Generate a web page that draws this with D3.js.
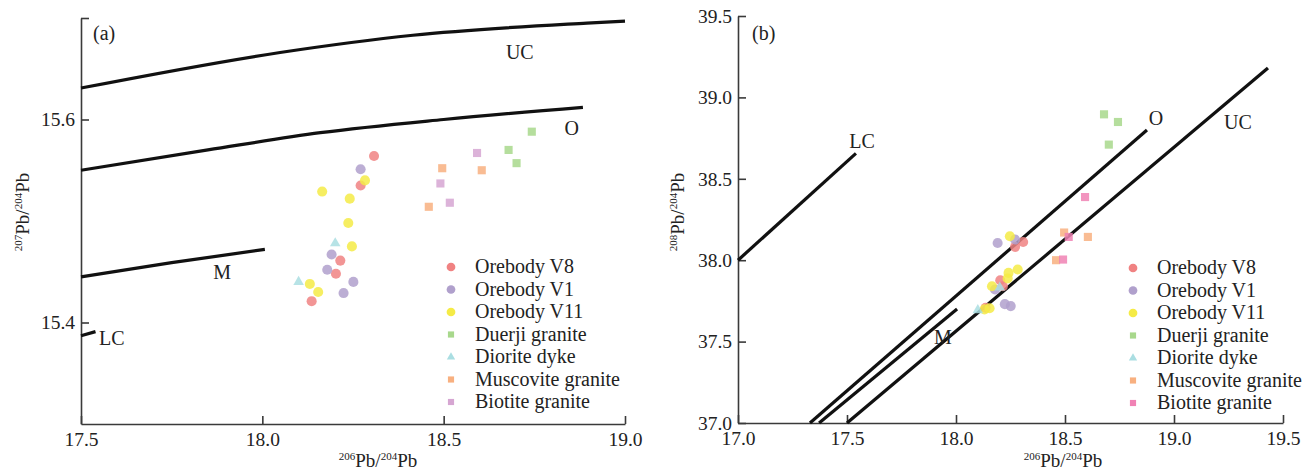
<!DOCTYPE html>
<html>
<head>
<meta charset="utf-8">
<script src="https://cdn.jsdelivr.net/npm/d3@7"></script>
<style>
  body { margin: 0; background: #fff; }
  svg text { font-family: "Liberation Serif", "Times New Roman", serif; fill: #222; }
</style>
</head>
<body>
<div id="chart"></div>
<script>
// sample groups, shared 206Pb/204Pb value, then 207Pb/204Pb (panel a) and 208Pb/204Pb (panel b)
const groups = ["Orebody V8", "Orebody V1", "Orebody V11", "Duerji granite", "Diorite dyke", "Muscovite granite", "Biotite granite"];

const v8_x   = [18.308, 18.271, 18.215, 18.203, 18.136];
const v8_y7  = [15.564, 15.535, 15.461, 15.448, 15.421];
const v8_y8  = [38.112, 38.082, 37.840, 37.877, 37.708];

const v1_x   = [18.271, 18.191, 18.179, 18.251, 18.224];
const v1_y7  = [15.551, 15.467, 15.452, 15.440, 15.429];
const v1_y8  = [38.127, 38.106, 37.820, 37.718, 37.730];

const v11_x  = [18.165, 18.283, 18.241, 18.237, 18.247, 18.131, 18.154];
const v11_y7 = [15.529, 15.540, 15.522, 15.498, 15.475, 15.438, 15.430];
const v11_y8 = [37.840, 37.943, 37.922, 37.888, 38.147, 37.698, 37.705];

const dj_x   = [18.743, 18.679, 18.701];
const dj_y7  = [15.588, 15.570, 15.557];
const dj_y8  = [38.849, 38.896, 38.710];

const dd_x   = [18.201, 18.100];
const dd_y7  = [15.478, 15.440];
const dd_y8  = [37.832, 37.693];

const mg_x   = [18.496, 18.605, 18.459];
const mg_y7  = [15.552, 15.550, 15.514];
const mg_y8  = [38.170, 38.143, 38.000];

const bg_x   = [18.592, 18.491, 18.517];
const bg_y7  = [15.567, 15.537, 15.518];
const bg_y8  = [38.388, 38.004, 38.143];

// plumbotectonic reference curves (x, y pairs)
const curvesA = {
  UC: [[17.5, 15.631], [18.049, 15.666], [18.415, 15.683], [18.895, 15.695], [19.0, 15.697]],
  O:  [[17.5, 15.550], [17.85, 15.570], [18.16, 15.587], [18.5, 15.600], [18.884, 15.612]],
  M:  [[17.5, 15.445], [17.75, 15.459], [18.007, 15.472]],
  LC: [[17.5, 15.387], [17.54, 15.391]]
};
const curvesB = {
  LC: [[17.0, 38.0], [17.541, 38.656]],
  O:  [[17.330, 37.0], [18.876, 38.80]],
  M:  [[17.372, 37.0], [18.005, 37.70]],
  UC: [[17.5, 37.0], [19.431, 39.18]]
};
const labelsA = [["UC", 18.71, 15.66], ["O", 18.853, 15.585], ["M", 17.889, 15.443], ["LC", 17.585, 15.378]];
const labelsB = [["LC", 17.569, 38.689], ["O", 18.917, 38.83], ["UC", 19.293, 38.806], ["M", 17.940, 37.485]];

const xTicksA = [17.5, 18.0, 18.5, 19.0];
const yTicksA = [15.4, 15.6, 15.7];
const xTicksB = [17.0, 17.5, 18.0, 18.5, 19.0, 19.5];
const yTicksB = [37.0, 37.5, 38.0, 38.5, 39.0, 39.5];

const w = 1303, h = 474;
const colorsA = ["#f08282", "#b0a0cc", "#f5eb46", "#a8d88c", "#aadee2", "#f8b080", "#d6a6d2"];
const colorsB = ["#f08282", "#b0a0cc", "#f5eb46", "#a8d88c", "#aadee2", "#f8b080", "#f082b4"];
const shapes = [d3.symbolCircle, d3.symbolCircle, d3.symbolCircle, d3.symbolSquare, d3.symbolTriangle, d3.symbolSquare, d3.symbolSquare];
const sizes = [80, 80, 80, 66, 48, 66, 66];
const legSizes = [60, 60, 60, 38, 30, 38, 38];

const xs = [v8_x, v1_x, v11_x, dj_x, dd_x, mg_x, bg_x];
const y7s = [v8_y7, v1_y7, v11_y7, dj_y7, dd_y7, mg_y7, bg_y7];
const y8s = [v8_y8, v1_y8, v11_y8, dj_y8, dd_y8, mg_y8, bg_y8];

const svg = d3.select("#chart").append("svg").attr("width", w).attr("height", h);

function panel(opt) {
  const g = svg.append("g");
  const x = d3.scaleLinear().domain(opt.xDomain).range(opt.xRange);
  const y = d3.scaleLinear().domain(opt.yDomain).range(opt.yRange);

  // axes, ticks pointing inward
  const xAxis = d3.axisBottom(x).tickValues(opt.xTicks).tickFormat(d3.format(".1f"))
                  .tickSizeInner(-8).tickSizeOuter(0).tickPadding(8);
  const yAxis = d3.axisLeft(y).tickValues(opt.yTicks).tickFormat(opt.yFormat)
                  .tickSizeInner(-8).tickSizeOuter(0).tickPadding(6);
  const gx = g.append("g").attr("transform", `translate(0,${opt.yRange[0]})`).call(xAxis);
  const gy = g.append("g").attr("transform", `translate(${opt.xRange[0]},0)`).call(yAxis);
  [gx, gy].forEach(a => {
    a.selectAll("path, line").attr("stroke", "#3a3a3a").attr("stroke-width", 1.6);
    a.selectAll("text").attr("font-size", 19.5).attr("font-family", "Liberation Serif").attr("fill", "#222");
  });

  // reference curves
  const line = d3.line().x(d => x(d[0])).y(d => y(d[1])).curve(d3.curveMonotoneX);
  Object.values(opt.curves).forEach(c => {
    g.append("path").attr("d", line(c)).attr("fill", "none")
     .attr("stroke", "#111").attr("stroke-width", 3.2).attr("stroke-linecap", "butt");
  });
  g.selectAll(".clab").data(opt.labels).enter().append("text")
   .attr("x", d => x(d[1])).attr("y", d => y(d[2]))
   .attr("text-anchor", "middle").attr("font-size", 20).text(d => d[0]);

  // samples
  groups.forEach((name, i) => {
    g.append("g").selectAll("path").data(xs[i].map((v, j) => [v, opt.ys[i][j]])).enter()
     .append("path")
     .attr("d", d3.symbol().type(shapes[i]).size(sizes[i]))
     .attr("transform", d => `translate(${x(d[0])},${y(d[1])})`)
     .attr("fill", opt.colors[i]).attr("fill-opacity", 0.85);
  });

  // legend
  const leg = g.append("g").attr("transform", `translate(${opt.legX},${opt.legY})`);
  groups.forEach((name, i) => {
    leg.append("path").attr("d", d3.symbol().type(shapes[i]).size(legSizes[i]))
       .attr("transform", `translate(0,${i * 22.5})`).attr("fill", opt.colors[i]);
    leg.append("text").attr("x", 24).attr("y", i * 22.5 + 6).attr("font-size", 20).text(name);
  });

  // panel tag
  g.append("text").attr("x", opt.tag[1]).attr("y", 40).attr("font-size", 20).text(opt.tag[0]);

  // axis titles
  const xt = g.append("text").attr("x", opt.xTitle[0]).attr("y", opt.xTitle[1])
              .attr("text-anchor", "middle").attr("font-size", 19);
  isoLabel(xt, "206", "204");
  const yt = g.append("text")
              .attr("transform", `translate(${opt.yTitle[0]},${opt.yTitle[1]}) rotate(-90)`)
              .attr("text-anchor", "middle").attr("font-size", 19);
  isoLabel(yt, opt.yIso, "204");
}

function isoLabel(t, a, b) {
  t.append("tspan").attr("font-size", 11).attr("dy", -7).text(a);
  t.append("tspan").attr("dy", 7).text("Pb/");
  t.append("tspan").attr("font-size", 11).attr("dy", -7).text(b);
  t.append("tspan").attr("dy", 7).text("Pb");
}

panel({
  xDomain: [17.5, 19.0], xRange: [81, 625],
  yDomain: [15.3, 15.7], yRange: [424, 18],
  xTicks: xTicksA, yTicks: yTicksA,
  yFormat: d => d > 15.65 ? "" : d3.format(".1f")(d),
  curves: curvesA, labels: labelsA, ys: y7s, colors: colorsA,
  legX: 451, legY: 267, tag: ["(a)", 93],
  xTitle: [378, 467], yTitle: [29, 212], yIso: "207"
});

panel({
  xDomain: [17.0, 19.5], xRange: [738, 1283],
  yDomain: [37.0, 39.5], yRange: [423, 16],
  xTicks: xTicksB, yTicks: yTicksB,
  yFormat: d3.format(".1f"),
  curves: curvesB, labels: labelsB, ys: y8s, colors: colorsB,
  legX: 1133, legY: 268, tag: ["(b)", 752],
  xTitle: [1063, 467], yTitle: [684, 212], yIso: "208"
});
</script>
</body>
</html>
